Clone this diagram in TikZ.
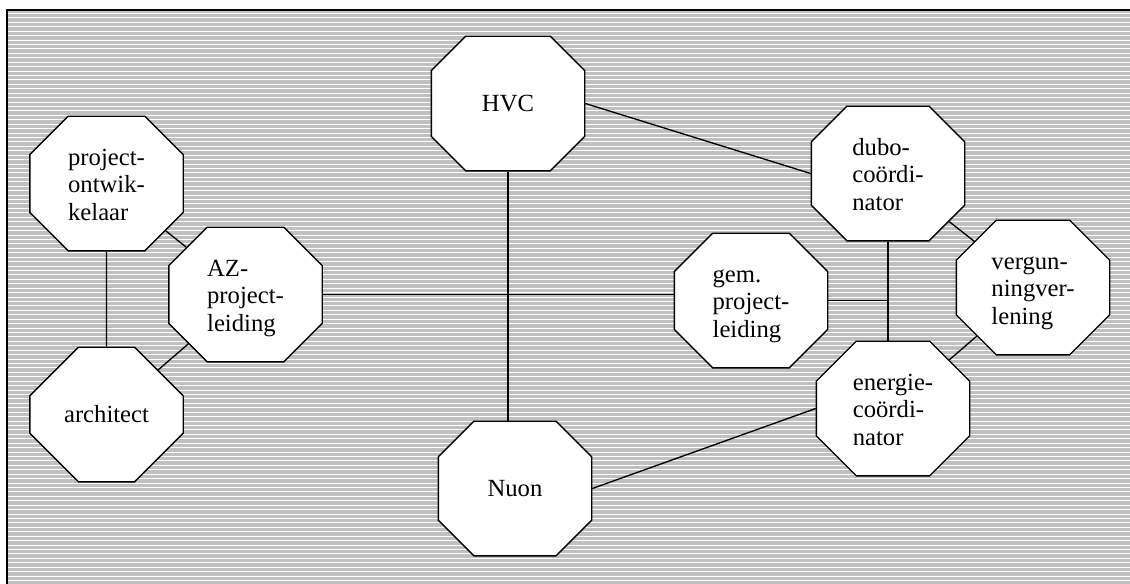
\documentclass[tikz,border=0pt]{standalone}
\usepackage{fontspec}
\setmainfont{Liberation Serif}
\usetikzlibrary{shapes.misc}
\definecolor{stripegrey}{RGB}{192,192,192}
\tikzset{every picture/.style={line width=1pt}}
\newcommand{\octlines}[1]{\smash{\raisebox{-7pt}{\begin{tabular}{@{}l@{}}#1\end{tabular}}}}

\begin{document}
\begin{tikzpicture}[x=0.75pt,y=0.75pt,yscale=-1,xscale=1,
  octa/.style={chamfered rectangle, chamfered rectangle xsep=30pt, chamfered rectangle ysep=30pt,
    draw, fill=white, minimum width=115pt, minimum height=101pt, inner sep=0pt,
    font=\fontsize{18.5}{20.6}\selectfont},
  link/.style={draw, line width=1pt}]
\clip (0,0) rectangle (1130,583);

%Shape: Rectangle [striped background]
\fill [stripegrey] (7,10) rectangle (1140,590);
\foreach \y in {13.5,17.93,...,583} \draw [white, line width=0.75pt] (7,\y) -- (1140,\y);
\draw [line width=1.5pt] (7,590) -- (7,10) -- (1140,10);

% Octagon nodes
\node [octa] (ontw) at (106.5,183.5) {\octlines{project-\\ontwik-\\kelaar}};
\node [octa] (azpl) at (245.5,294.5) {\octlines{AZ-\\project-\\leiding}};
\node [octa] (arch) at (106.5,414.5) {architect};
\node [octa] (hvc) at (508,103.5) {HVC};
\node [octa] (nuon) at (515,488.5) {Nuon};
\node [octa] (gempl) at (751,300.5) {\octlines{gem.\\project-\\leiding}};
\node [octa] (dubo) at (888,173.5) {\octlines{dubo-\\coördi-\\nator}};
\node [octa] (verg) at (1033,287.5) {\octlines{vergun-\\ningver-\\lening}};
\node [octa] (ener) at (893,408.5) {\octlines{energie-\\coördi-\\nator}};

% Straight Lines
\draw [link] (ontw) -- (azpl);
\draw [link] (ontw) -- (arch);
\draw [link] (arch) -- (azpl);
\draw [link] (azpl.east) -- (azpl.east -| gempl.west);
\draw [link] (hvc.south) -- (hvc.south |- nuon.north);
\draw [link] (hvc.east) -- (dubo.west);
\draw [link] (dubo.south) -- (dubo.south |- ener.north);
\draw [link] (gempl.east) -- (gempl.east -| dubo.south);
\draw [link] (dubo) -- (verg);
\draw [link] (verg) -- (ener);
\draw [link] (nuon.east) -- (ener.west);

\end{tikzpicture}
\end{document}
